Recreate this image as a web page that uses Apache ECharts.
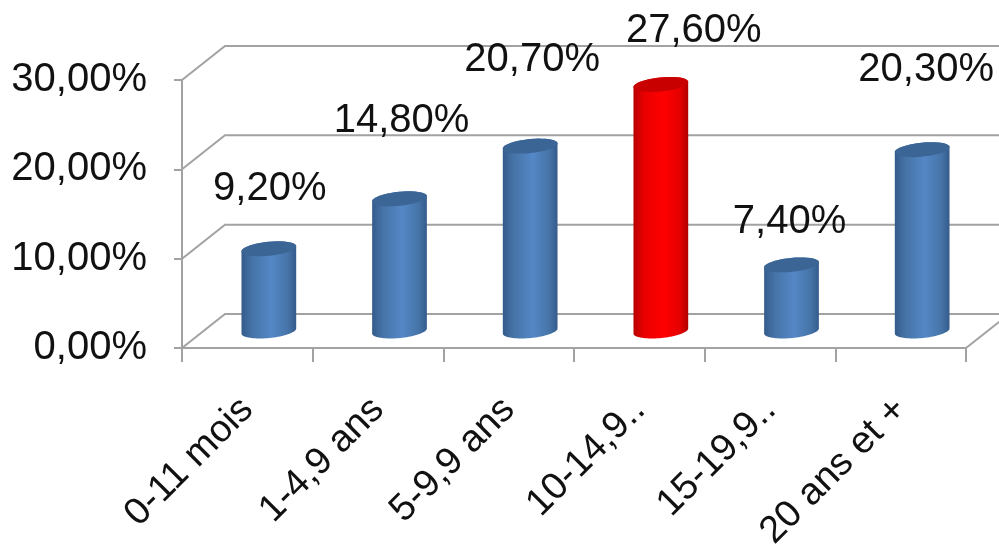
<!DOCTYPE html>
<html>
<head>
<meta charset="utf-8">
<style>
    html, body { margin: 0; padding: 0; background: #fff; }
    #myChart { width: 999px; height: 550px; }
</style>
<script src="https://cdn.jsdelivr.net/npm/echarts@6/dist/echarts.min.js"></script>
</head>
<body>
<div id="myChart"></div>
<script>
    const categories = ['0-11 mois', '1-4,9 ans', '5-9,9 ans', '10-14,9..', '15-19,9..', '20 ans et +'];
    const values = [9.2, 14.8, 20.7, 27.6, 7.4, 20.3];
    const valueLabels = ['9,20%', '14,80%', '20,70%', '27,60%', '7,40%', '20,30%'];
    const yTicks = [0, 10, 20, 30];
    const highlightedIndex = 3;

    // fake 3D: how far the back wall sits from the front axes
    const depthX = 43, depthY = -34;
    const lineColor = '#a2a2a2';
    const textColor = '#111111';
    const fontFamily = '"Liberation Sans", Arial, sans-serif';

    // hand placed data labels in the original, offset from the top of each bar
    const labelNudge = [[1, -60], [2, -78], [2, -86], [33, -53], [-2, -43], [4, -80]];

    // points along a slightly tilted ellipse, angles in radians
    function arc(cx, cy, rx, ry, from, to) {
        const tilt = -0.1, pts = [];
        for (let i = 0; i <= 40; i++) {
            const a = from + (to - from) * i / 40;
            const ex = rx * Math.cos(a), ey = ry * Math.sin(a);
            pts.push([cx + ex * Math.cos(tilt) - ey * Math.sin(tilt), cy + ex * Math.sin(tilt) + ey * Math.cos(tilt)]);
        }
        return pts;
    }

    function renderCylinder(params, api) {
        const i = api.value(0);
        const base = api.coord([i, 0]);
        const top = api.coord([i, api.value(1)]);
        const cx = base[0] + depthX / 2, by = base[1] + depthY / 2, ty = top[1] + depthY / 2;
        const rx = 27.5, ry = 7;
        const red = i === highlightedIndex;
        const body = arc(cx, by, rx, ry, Math.PI, 0).concat(arc(cx, ty, rx, ry, 0, -Math.PI));
        return {
            type: 'group',
            children: [
                {
                    type: 'polygon',
                    shape: { points: body },
                    style: {
                        fill: new echarts.graphic.LinearGradient(0, 0, 1, 0, red ? [
                            { offset: 0, color: '#b80000' },
                            { offset: 0.2, color: '#ea0000' },
                            { offset: 0.55, color: '#ff0000' },
                            { offset: 0.85, color: '#e40000' },
                            { offset: 1, color: '#b00000' }
                        ] : [
                            { offset: 0, color: '#345b8c' },
                            { offset: 0.2, color: '#4674a8' },
                            { offset: 0.55, color: '#5487c6' },
                            { offset: 0.85, color: '#4674a8' },
                            { offset: 1, color: '#345b8c' }
                        ])
                    }
                },
                {
                    type: 'polygon',
                    shape: { points: arc(cx, ty, rx, ry, 0, Math.PI * 2) },
                    style: { fill: red ? '#c80000' : '#3b6595' }
                },
                {
                    type: 'text',
                    x: cx + labelNudge[i][0],
                    y: ty + labelNudge[i][1],
                    style: {
                        text: valueLabels[i],
                        font: '40px ' + fontFamily,
                        fill: textColor,
                        align: 'center',
                        verticalAlign: 'middle'
                    }
                }
            ]
        };
    }

    // back wall gridlines and the slanted side lines, from the value axis ticks
    function renderWall(params, api) {
        const p = api.coord([0, api.value(0)]);
        const lineStyle = { stroke: lineColor, lineWidth: 2, fill: 'none' };
        const gridRight = params.coordSys.x + params.coordSys.width;
        const startX = params.coordSys.x;
        const children = [
            {
                type: 'polyline',
                shape: { points: [[startX, p[1]], [startX + depthX, p[1] + depthY], [gridRight + depthX, p[1] + depthY]] },
                style: lineStyle
            }
        ];
        if (api.value(0) === 0) {
            children.push({
                type: 'line',
                shape: { x1: gridRight, y1: p[1], x2: gridRight + depthX, y2: p[1] + depthY },
                style: lineStyle
            });
        }
        return { type: 'group', children: children };
    }

    const myChart = echarts.init(document.getElementById('myChart'), null, { renderer: 'canvas' });

    myChart.setOption({
        animation: false,
        backgroundColor: '#ffffff',
        grid: { left: 182, right: 33, top: 80, bottom: 202, outerBoundsMode: 'none' },
        xAxis: {
            type: 'category',
            data: categories,
            boundaryGap: true,
            axisLine: { lineStyle: { color: lineColor, width: 2 } },
            axisTick: { show: true, length: 14, lineStyle: { color: lineColor, width: 2 } },
            axisLabel: {
                interval: 0,
                rotate: 45,
                margin: 56,
                color: textColor,
                fontFamily: fontFamily,
                fontSize: 38
            }
        },
        yAxis: {
            type: 'value',
            min: 0,
            max: 30,
            interval: 10,
            splitLine: { show: false },
            axisLine: { show: true, lineStyle: { color: lineColor, width: 2 } },
            axisTick: { show: true, length: 8, lineStyle: { color: lineColor, width: 2 } },
            axisLabel: {
                margin: 35,
                padding: [6, 0, 0, 0],
                color: textColor,
                fontFamily: fontFamily,
                fontSize: 40,
                formatter: function (v) { return v.toFixed(2).replace('.', ',') + '%'; }
            }
        },
        series: [
            {
                type: 'custom',
                name: 'wall',
                z: 1,
                renderItem: renderWall,
                encode: { y: 0 },
                data: yTicks.map(function (t) { return [t]; }),
                silent: true
            },
            {
                type: 'custom',
                name: 'values',
                z: 3,
                renderItem: renderCylinder,
                encode: { x: 0, y: 1 },
                data: values.map(function (v, i) { return [i, v]; })
            }
        ]
    });
</script>
</body>
</html>
